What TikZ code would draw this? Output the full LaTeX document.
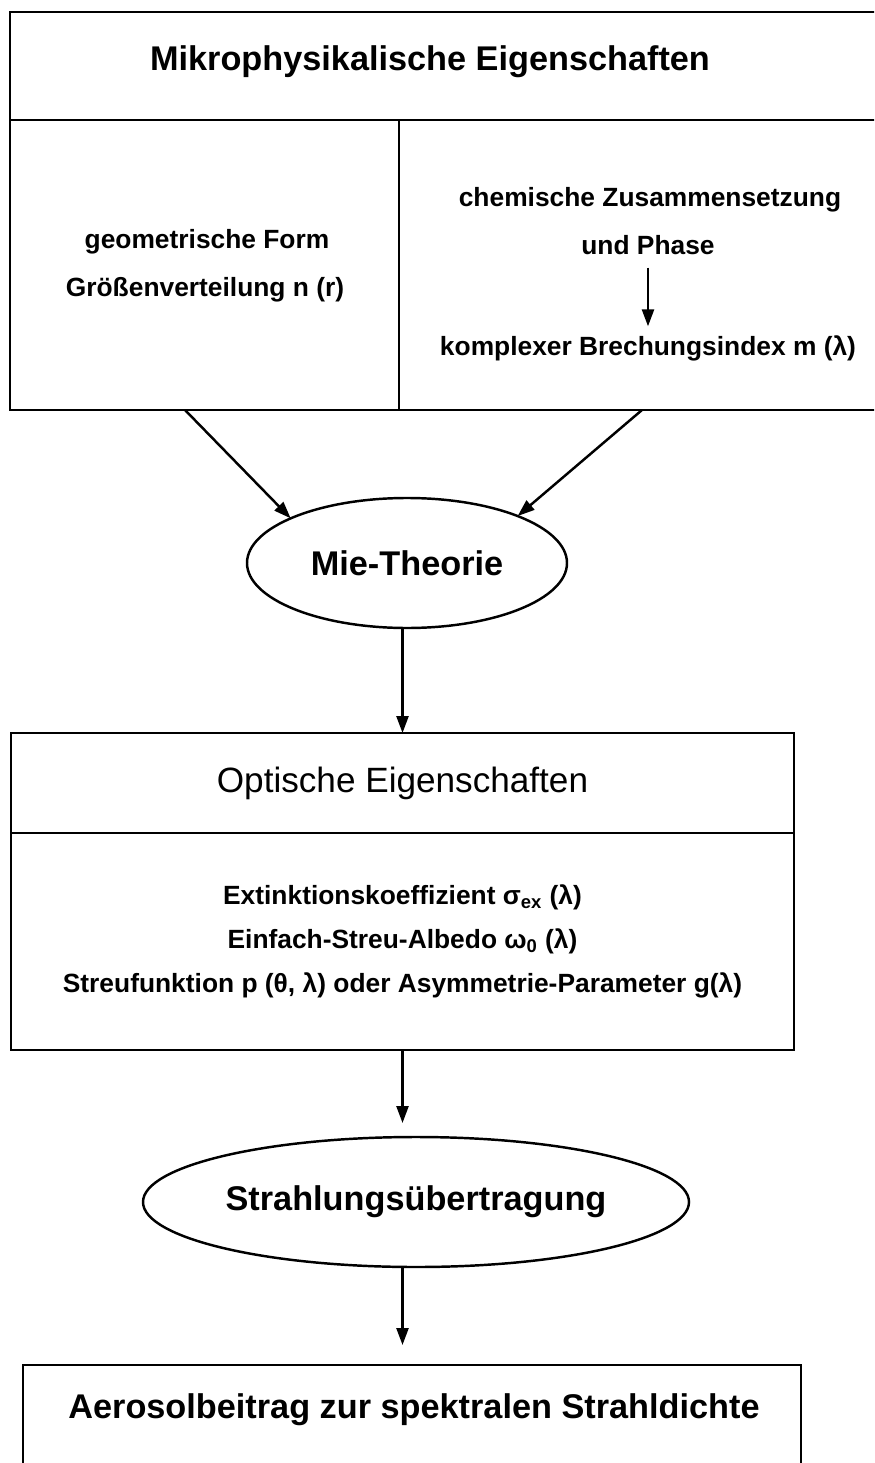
\documentclass[tikz,border=0pt]{standalone}
\usepackage{fontspec}
\setmainfont{Liberation Sans}
\usetikzlibrary{arrows.meta,shapes.geometric,positioning}

\tikzset{
  titel/.style={font=\fontsize{19.5}{23}\selectfont\bfseries, inner sep=1pt},
  zeile/.style={font=\fontsize{15}{25}\selectfont\bfseries, align=center, inner sep=1pt},
  kasten/.style={draw, rectangle, inner sep=0pt, outer sep=0pt},
  oval/.style={draw, ellipse, inner sep=0pt, outer sep=0pt, font=\fontsize{19.5}{23}\selectfont\bfseries},
}

\begin{document}
\begin{tikzpicture}[x=0.2mm, y=-0.2mm, line width=1.4pt, >={Triangle[length=3.4mm,width=2.4mm]}]
        \useasboundingbox (0,0) rectangle (874,1463);
        \clip (0,0) rectangle (874,1463);

        % Mikrophysik (rechter Rand abgeschnitten)
        \draw (10,12) rectangle (900,410);
        \draw (10,120) -- (900,120);
        \draw (399,120) -- (399,410);
        \node[titel] (mikro) at (430,62) {Mikrophysikalische Eigenschaften};
        \node[zeile] (form) at (207,242) {geometrische Form};
        \node[zeile] (groesse) at (205,290) {Größenverteilung n (r)};
        \node[zeile] (chemie) at (650,200) {chemische Zusammensetzung};
        \node[zeile] (phase) at (648,245) {und Phase};
        \node[zeile] (index) at (648,348) {komplexer Brechungsindex m (λ)};
        \coordinate (links) at (185,410);
        \coordinate (rechts) at (642,410);

        \node[oval, minimum width=64mm, minimum height=26mm] (mie) at (407,563) {Mie-Theorie};

        \node[kasten, minimum width=156.6mm, minimum height=20mm,
              font=\fontsize{20}{24}\selectfont] (optik) at (402.5,783) {Optische Eigenschaften};
        \node[kasten, zeile, minimum width=156.6mm, minimum height=43.4mm,
              below=0pt of optik] (parameter)
              {Extinktionskoeffizient σ\textsubscript{ex} (λ)\\
               Einfach-Streu-Albedo ω\textsubscript{0} (λ)\\
               Streufunktion p (θ, λ) oder Asymmetrie-Parameter g(λ)};

        \node[oval, minimum width=109.2mm, minimum height=26mm] (strahlung) at (416,1202) {Strahlungsübertragung};

        \node[kasten, minimum width=155.6mm, minimum height=26mm, anchor=north] (aerosol) at (412,1365) {};
        \node[titel] (aerosoltext) at (414,1410) {Aerosolbeitrag zur spektralen Strahldichte};

        \draw[->, shorten <=2mm, shorten >=1.2mm] (phase) -- (index);
        \draw[->] (links) -- (mie.159);
        \draw[->] (rechts) -- (mie.23);
        \draw[->] (mie.south -| optik.north) -- (optik.north);
        \draw[->, shorten >=2.8mm] (parameter.south) -- (parameter.south |- strahlung.north);
        \draw[->, shorten >=4mm] (strahlung.south -| parameter.south) -- (parameter.south |- aerosol.north);
      \end{tikzpicture}
\end{document}
